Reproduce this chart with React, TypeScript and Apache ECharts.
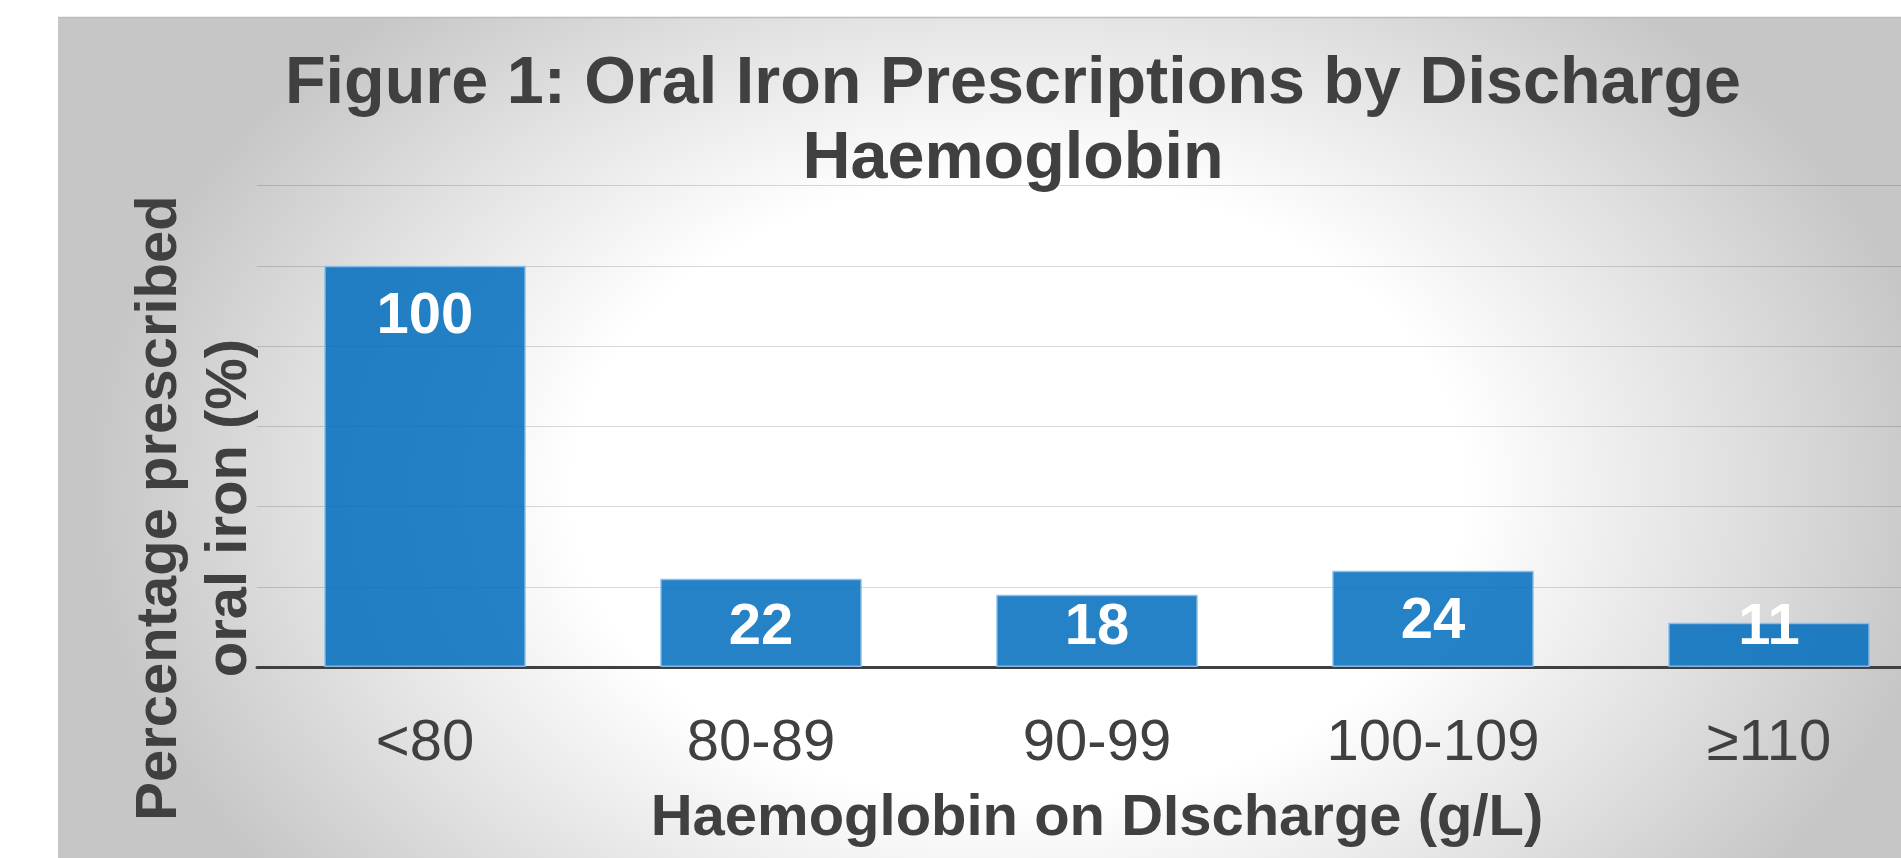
import React, { useEffect, useRef } from 'react';
import * as echarts from 'echarts';

const categories = ['<80', '80-89', '90-99', '100-109', '≥110'];
const values = [100, 22, 18, 24, 11];
const yMin = 0;
const yMax = 120;
const yInterval = 20;
const titleLines = ['Figure 1: Oral Iron Prescriptions by Discharge', 'Haemoglobin'];
const xAxisTitle = 'Haemoglobin on DIscharge (g/L)';
const yAxisTitleLines = ['Percentage prescribed', 'oral iron (%)'];
// bars below this value get their label pinned near the axis (as in the original)
const labelFloorValue = 23;

const FONT = '"Liberation Sans", Arial, Helvetica, sans-serif';
const DARK = '#404040';

export default function App() {
  const ref = useRef<HTMLDivElement>(null);

  useEffect(() => {
    if (!ref.current) return;
    const chart = echarts.init(ref.current, null, { renderer: 'svg' });

    const bgScaleY = 0.7;
    const bg = new echarts.graphic.RadialGradient(
      960,
      (490 - 17) / bgScaleY,
      930,
      [
        { offset: 0, color: '#ffffff' },
        { offset: 0.48, color: '#ffffff' },
        { offset: 0.76, color: '#e1e1e1' },
        { offset: 1, color: '#c6c6c6' },
      ],
      true
    );

    const option: any = {
      animation: false,
      backgroundColor: '#ffffff',
      title: {
        text: titleLines.join('\n'),
        left: 1013,
        top: 42.5,
        padding: 0,
        textAlign: 'center',
        textStyle: {
          fontFamily: FONT,
          fontSize: 66.5,
          fontWeight: 'bold',
          color: DARK,
          lineHeight: 75,
        },
      },
      graphic: {
        z: -10,
        elements: [
          {
            type: 'rect',
            x: 58,
            y: 17,
            scaleX: 1,
            scaleY: bgScaleY,
            silent: true,
            shape: { x: 0, y: 0, width: 1843, height: 841 / bgScaleY },
            style: { fill: bg },
          },
          {
            type: 'line',
            silent: true,
            shape: { x1: 58, y1: 17.5, x2: 1901, y2: 17.5 },
            style: { stroke: '#bdbdbd', lineWidth: 1.5 },
          },
          {
            type: 'text',
            x: 190,
            y: 508,
            rotation: Math.PI / 2,
            silent: true,
            style: {
              text: yAxisTitleLines.join('\n'),
              fontFamily: FONT,
              fontSize: 58,
              fontWeight: 'bold',
              fill: DARK,
              align: 'center',
              verticalAlign: 'middle',
              lineHeight: 70,
            },
          },
        ],
      },
      grid: {
        left: 257,
        top: 185.5,
        width: 1680,
        height: 481.5,
        containLabel: false,
        outerBoundsMode: 'none',
      },
      xAxis: {
        type: 'category',
        data: categories,
        axisTick: { show: false },
        axisLine: { lineStyle: { color: DARK, width: 3 } },
        axisLabel: {
          fontFamily: FONT,
          fontSize: 58,
          color: DARK,
          margin: 43,
          lineHeight: 58,
        },
        name: xAxisTitle,
        nameLocation: 'middle',
        nameGap: 118,
        nameTextStyle: {
          fontFamily: FONT,
          fontSize: 58,
          fontWeight: 'bold',
          color: DARK,
          lineHeight: 58,
        },
      },
      yAxis: {
        type: 'value',
        min: yMin,
        max: yMax,
        interval: yInterval,
        axisLabel: { show: false },
        axisLine: { show: false },
        axisTick: { show: false },
        splitLine: { lineStyle: { color: 'rgba(0,0,0,0.15)', width: 1.2 } },
      },
      series: [
        {
          type: 'bar',
          barCategoryGap: '40%',
          data: values.map((v) => ({
            value: v,
            label:
              v >= labelFloorValue
                ? { position: 'insideTop', distance: 17.5 }
                : { position: 'insideBottom', distance: 15 },
          })),
          itemStyle: {
            color: 'rgba(0,108,189,0.85)',
            borderColor: 'rgba(140,192,236,0.9)',
            borderWidth: 1.5,
          },
          label: {
            show: true,
            color: '#ffffff',
            fontFamily: FONT,
            fontSize: 58,
            fontWeight: 'bold',
            lineHeight: 58,
          },
        },
      ],
    };

    chart.setOption(option);
    return () => chart.dispose();
  }, []);

  return (
    <div
      ref={ref}
      style={{ position: 'fixed', left: 0, top: 0, width: '1901px', height: '858px' }}
    />
  );
}
